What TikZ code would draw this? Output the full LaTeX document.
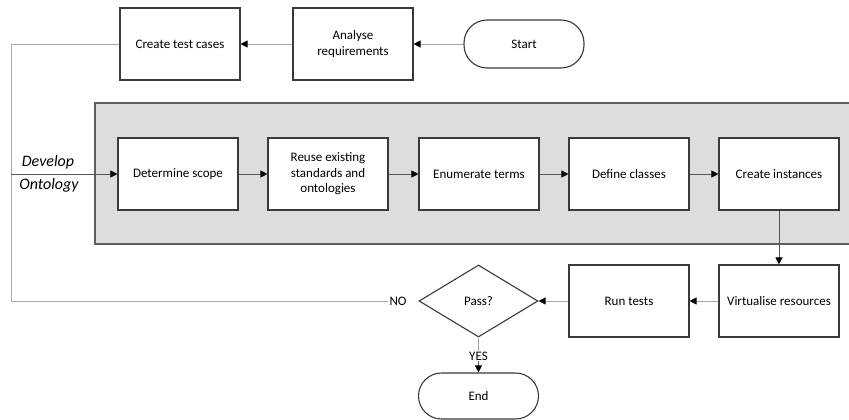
\documentclass[tikz,border=0pt]{standalone}
\usepackage{fontspec}
\setmainfont{Carlito}
\usetikzlibrary{arrows.meta,shapes.geometric}
\definecolor{boxline}{HTML}{3A3A3A}
\definecolor{lightline}{HTML}{A8A8A8}
\definecolor{darkline}{HTML}{555555}
\definecolor{panel}{HTML}{DDDDDD}
\definecolor{panelline}{HTML}{5E5E5E}
\tikzset{
  txt/.style={font=\fontsize{13}{15.5}\selectfont},
  procbox/.style={txt, draw=boxline, line width=1.1pt, fill=white, minimum width=120pt, minimum height=72pt, inner sep=2pt, align=center},
  termbox/.style={txt, draw=boxline, line width=1.1pt, fill=white, rounded corners=23pt, minimum width=120pt, minimum height=48pt, inner sep=2pt},
  decbox/.style={txt, draw=boxline, line width=1.1pt, fill=white, diamond, aspect=1.65, minimum width=119pt, minimum height=72pt, inner sep=0pt},
  lbl/.style={txt, inner sep=1pt},
  devlbl/.style={font=\fontsize{16}{19}\selectfont\itshape, inner sep=0pt},
  tip/.style={-{Triangle[length=7pt,width=7pt,color=black]}},
  lite/.style={draw=lightline, line width=0.9pt},
  dark/.style={draw=darkline, line width=0.9pt},
}
\begin{document}
\begin{tikzpicture}[x=1pt,y=-1pt]
\useasboundingbox (0,0) rectangle (849,420);
% panel
\fill[panel, draw=panelline, line width=1.6pt] (95,103) rectangle (851,244);
% top row
\node[procbox] (ctc) at (180,44) {Create test cases};
\node[procbox] (ar) at (353,44) {Analyse\\requirements};
\node[termbox] (start) at (524,44) {Start};
% develop row
\node[procbox] (ds) at (178,174) {Determine scope};
\node[procbox] (reuse) at (328,174) {Reuse existing\\standards and\\ontologies};
\node[procbox] (enum) at (479,174) {Enumerate terms};
\node[procbox] (def) at (629,174) {Define classes};
\node[procbox] (ci) at (779,174) {Create instances};
% bottom row
\node[procbox] (vr) at (779,301) {Virtualise resources};
\node[procbox] (rt) at (629,301) {Run tests};
\node[decbox] (pass) at (478.5,301) {Pass?};
\node[lbl] (no) at (398,301) {NO};
\node[lbl] (yes) at (478.5,356) {YES};
\node[termbox, minimum height=46pt] (end) at (478.5,396) {End};
% develop label
\node[devlbl] (devA) at (48,162) {Develop};
\node[devlbl] (devB) at (49,185) {Ontology};
% loop coordinates
\coordinate (tl) at (11,44);
\coordinate (ml) at (11,174);
\coordinate (bl) at (11,301);
% connectors
\draw[lite, tip] (start.west) -- (ar.east);
\draw[lite, tip] (ar.west) -- (ctc.east);
\draw[lite] (ctc.west) -- (tl) -- (bl) -- (no.west);
\draw[dark, tip] (ml) -- (ds.west);
\draw[dark, tip] (ds.east) -- (reuse.west);
\draw[dark, tip] (reuse.east) -- (enum.west);
\draw[dark, tip] (enum.east) -- (def.west);
\draw[dark, tip] (def.east) -- (ci.west);
\draw[dark, tip] (ci.south) -- (vr.north);
\draw[lite, tip] (vr.west) -- (rt.east);
\draw[lite, tip] (rt.west) -- (pass.east);
\draw[lite] (pass.south) -- (yes.north);
\draw[dark, tip] (yes.south) -- (end.north);
\end{tikzpicture}
\end{document}
